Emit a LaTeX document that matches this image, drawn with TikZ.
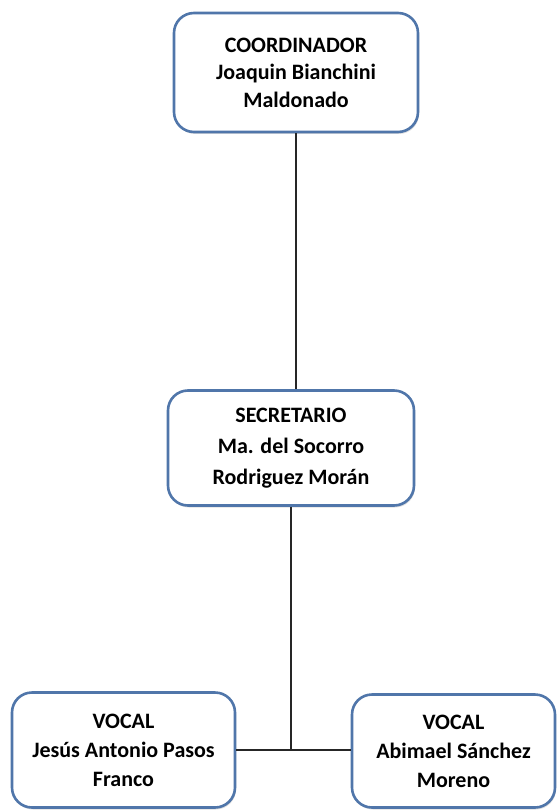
\documentclass[tikz,border=0pt]{standalone}
\usepackage{fontspec}
\setmainfont{Carlito}
\usepackage{tikz}
\usetikzlibrary{calc,shadows}

\tikzset{
  cargo/.style={draw=cargoborde, line width=2.6pt, rounded corners=20pt, fill=white,
    align=center, font=\bfseries\fontsize{22}{29}\selectfont,
    drop shadow={opacity=0.25, shadow xshift=1pt, shadow yshift=-2pt}},
  enlace/.style={line width=1.4pt, color=black!85}
}
\definecolor{cargoborde}{RGB}{80,118,170}

\begin{document}
\begin{tikzpicture}[x=1pt,y=-1pt]
            \useasboundingbox (0,0) rectangle (559,810);
            \node[cargo, minimum width=244pt, minimum height=119pt,
              font=\bfseries\fontsize{22}{27.5}\selectfont] (coord) at (296,72.5)
              {COORDINADOR\\Joaquin Bianchini\\Maldonado};
            \node[cargo, minimum width=246pt, minimum height=115pt,
              font=\bfseries\fontsize{22}{31}\selectfont] (secre) at (291,448)
              {SECRETARIO\\Ma. del Socorro\\Rodriguez Morán};
            \node[cargo, minimum width=223pt, minimum height=115pt] (vocalA) at (123.5,750)
              {VOCAL\\Jesús Antonio Pasos\\Franco};
            \node[cargo, minimum width=203pt, minimum height=113pt] (vocalB) at (453.5,751)
              {VOCAL\\Abimael Sánchez\\Moreno};
            \coordinate (union) at ($(secre.south |- vocalA.east)$);
            \draw[enlace] (coord.south) -- (coord.south |- secre.north);
            \draw[enlace] (secre.south) -- (union);
            \draw[enlace] (vocalA.east) -- (vocalA.east -| vocalB.west);
            \end{tikzpicture}
\end{document}
